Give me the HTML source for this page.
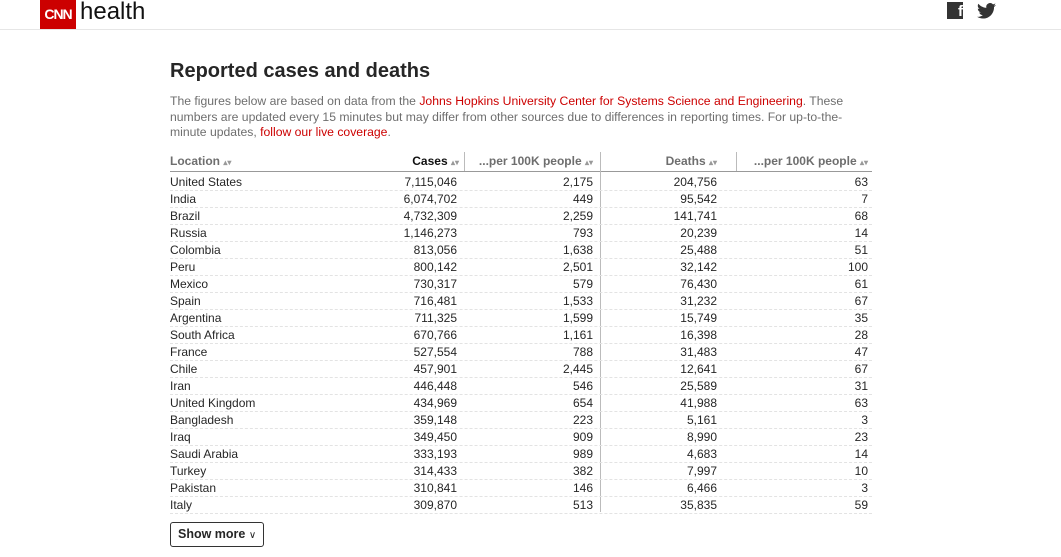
<!DOCTYPE html>
<html><head><meta charset="utf-8"><style>
body{margin:0;width:1061px;height:557px;background:#fff;font-family:"Liberation Sans",sans-serif;position:relative;overflow:hidden}
.top{position:absolute;left:0;top:0;width:1061px;height:29px;border-bottom:1px solid #e6e6e6}
.logo{position:absolute;left:40px;top:0;width:36px;height:29px;background:#c00;color:#fff;font-weight:bold;font-size:14px;line-height:29px;text-align:center;letter-spacing:-1px}
.health{position:absolute;left:80px;top:-2px;font-size:24px;color:#111}
h1{position:absolute;left:170px;top:60px;margin:0;font-size:20px;font-weight:bold;color:#262626}
.intro{position:absolute;left:170px;top:94px;width:700px;font-size:12.2px;line-height:15.5px;color:#6e6e6e}
.intro a{color:#cc0000;text-decoration:none}
.r{position:absolute;left:170px;width:702px;height:17px;font-size:12px;color:#262626;border-bottom:1px dashed #e3e3e3}
.r span{position:absolute;top:2px}
.h{border-bottom:1px solid #999;height:19px;top:152px;color:#6e6e6e;font-weight:bold}
.c1{left:0}.c2{right:415px}.c3{right:279px}.c4{right:155px}.c5{right:4px}
.sep{position:absolute;width:1px;background:#bbb}
.btn{position:absolute;left:170px;top:522px;width:92px;height:23px;border:1px solid #333;border-radius:3px;font-size:12.5px;font-weight:bold;line-height:23px;text-indent:7px;color:#262626}
.ar{font-size:8px;color:#999}
</style></head><body>
<div class="top"><div class="logo">CNN</div><div class="health">health</div>
<div style="position:absolute;left:947px;top:2px;width:16px;height:17px;background:#333;color:#fff;font-weight:bold;font-size:15px;text-align:right;line-height:20px">f</div>
<svg style="position:absolute;left:977px;top:3px" width="19" height="16" viewBox="0 0 24 20"><path fill="#333" d="M24 2.4a10 10 0 0 1-2.8.8A5 5 0 0 0 23.3.4a10 10 0 0 1-3.1 1.2A4.9 4.9 0 0 0 11.8 6 14 14 0 0 1 1.7.9a4.9 4.9 0 0 0 1.5 6.6A4.9 4.9 0 0 1 1 6.9a4.9 4.9 0 0 0 3.9 4.8 5 5 0 0 1-2.2.1 4.9 4.9 0 0 0 4.6 3.4A9.9 9.9 0 0 1 0 17.3 14 14 0 0 0 7.5 19.5c9.1 0 14-7.5 14-14v-.6A10 10 0 0 0 24 2.4z"/></svg></div>
<h1>Reported cases and deaths</h1>
<div class="intro">The figures below are based on data from the <a>Johns Hopkins University Center for Systems Science and Engineering</a>. These numbers are updated every 15 minutes but may differ from other sources due to differences in reporting times. For up-to-the-minute updates, <a>follow our live coverage</a>.</div>
<div class="r h"><span class="c1">Location <span class="ar" style="position:static">&#x25B4;&#x25BE;</span></span><span class="c2" style="color:#111;right:413px">Cases <span class="ar" style="position:static">&#x25B4;&#x25BE;</span></span><span class="c3">...per 100K people <span class="ar" style="position:static">&#x25B4;&#x25BE;</span></span><span class="c4">Deaths <span class="ar" style="position:static">&#x25B4;&#x25BE;</span></span><span class="c5">...per 100K people <span class="ar" style="position:static">&#x25B4;&#x25BE;</span></span></div>
<div class="sep" style="left:464px;top:152px;height:360px;background:none"></div>
<div class="sep" style="left:464px;top:152px;height:19px"></div>
<div class="sep" style="left:600px;top:152px;height:360px"></div>
<div class="sep" style="left:736px;top:152px;height:19px"></div>
<div id="rows"></div>
<div class="btn">Show more <span style="font-weight:normal;font-size:10px">&#x2228;</span></div>
<script>
var d=[["United States","7,115,046","2,175","204,756","63"],["India","6,074,702","449","95,542","7"],["Brazil","4,732,309","2,259","141,741","68"],["Russia","1,146,273","793","20,239","14"],["Colombia","813,056","1,638","25,488","51"],["Peru","800,142","2,501","32,142","100"],["Mexico","730,317","579","76,430","61"],["Spain","716,481","1,533","31,232","67"],["Argentina","711,325","1,599","15,749","35"],["South Africa","670,766","1,161","16,398","28"],["France","527,554","788","31,483","47"],["Chile","457,901","2,445","12,641","67"],["Iran","446,448","546","25,589","31"],["United Kingdom","434,969","654","41,988","63"],["Bangladesh","359,148","223","5,161","3"],["Iraq","349,450","909","8,990","23"],["Saudi Arabia","333,193","989","4,683","14"],["Turkey","314,433","382","7,997","10"],["Pakistan","310,841","146","6,466","3"],["Italy","309,870","513","35,835","59"]];
var h="";d.forEach(function(r,i){h+='<div class="r" style="top:'+(173+17*i)+'px">';r.forEach(function(c,j){h+='<span class="c'+(j+1)+'">'+c+'</span>'});h+='</div>'});
document.getElementById('rows').innerHTML=h;
</script>
</body></html>
